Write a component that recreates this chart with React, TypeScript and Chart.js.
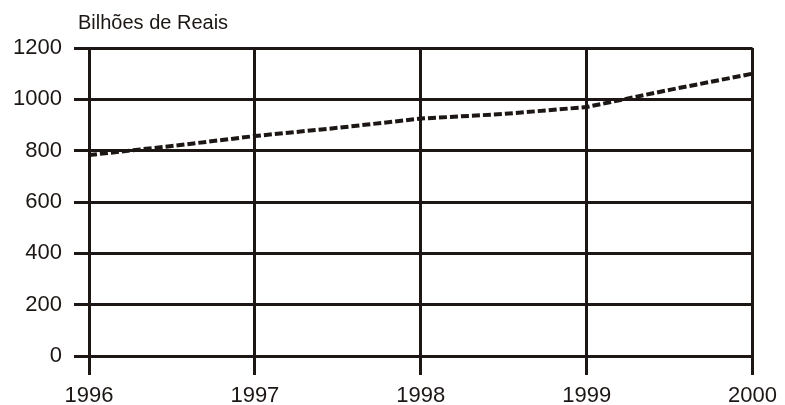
import { useEffect, useRef } from 'react';
import { Chart, registerables, Plugin } from 'chart.js';

Chart.register(...registerables);

// Série (semestral, bilhões de reais)
const years = [1996, 1996.5, 1997, 1997.5, 1998, 1998.5, 1999, 1999.5, 2000];
const values = [783, 818, 857, 889, 925, 943, 970, 1037, 1100];
const unitLabel = 'Bilhões de Reais';

const ink = '#1c1715';
const fontFamily = '"Liberation Sans", Arial, sans-serif';

// unit label drawn above the y axis, like the original
const unitLabelPlugin: Plugin<'line'> = {
  id: 'unitLabel',
  afterDraw(chart) {
    const { ctx, chartArea } = chart;
    ctx.save();
    ctx.font = `20px ${fontFamily}`;
    ctx.fillStyle = ink;
    ctx.textAlign = 'left';
    ctx.textBaseline = 'middle';
    ctx.fillText(unitLabel, chartArea.left - 11, chartArea.top - 25);
    ctx.restore();
  },
};

export default function App() {
  const chartRef = useRef<HTMLCanvasElement>(null);
  const chartInstance = useRef<Chart | null>(null);

  useEffect(() => {
    if (!chartRef.current) return;

    if (chartInstance.current) {
      chartInstance.current.destroy();
    }

    const ctx = chartRef.current.getContext('2d');
    if (!ctx) return;

    chartInstance.current = new Chart(ctx, {
      type: 'line',
      data: {
        datasets: [
          {
            data: years.map((x, i) => ({ x, y: values[i] })),
            borderColor: ink,
            borderWidth: 4,
            borderDash: [8, 3],
            pointRadius: 0,
            tension: 0,
            fill: false,
          },
        ],
      },
      options: {
        animation: false,
        responsive: true,
        maintainAspectRatio: false,
        layout: {
          padding: { top: 48, right: 32, bottom: 0, left: 0 },
        },
        plugins: {
          legend: { display: false },
          tooltip: { enabled: false },
        },
        scales: {
          x: {
            type: 'linear',
            min: 1996,
            max: 2000,
            afterFit: (scale) => {
              scale.height = 49;
            },
            ticks: {
              stepSize: 1,
              callback: (v) => String(v),
              color: ink,
              padding: 8,
              font: { family: fontFamily, size: 22 },
              maxRotation: 0,
            },
            grid: { color: ink, lineWidth: 3, tickLength: 19 },
            border: { color: ink, width: 3 },
          },
          y: {
            min: 0,
            max: 1200,
            afterFit: (scale) => {
              scale.width = 89;
            },
            ticks: {
              stepSize: 200,
              callback: (v) => String(v),
              color: ink,
              padding: 12,
              font: { family: fontFamily, size: 22 },
            },
            grid: { color: ink, lineWidth: 3, tickLength: 15 },
            border: { color: ink, width: 3 },
          },
        },
      },
      plugins: [unitLabelPlugin],
    });

    return () => {
      if (chartInstance.current) {
        chartInstance.current.destroy();
        chartInstance.current = null;
      }
    };
  }, []);

  return (
    <div style={{ position: 'fixed', left: 0, top: 0, width: 785, height: 405, background: '#fff' }}>
      <canvas ref={chartRef} />
    </div>
  );
}
